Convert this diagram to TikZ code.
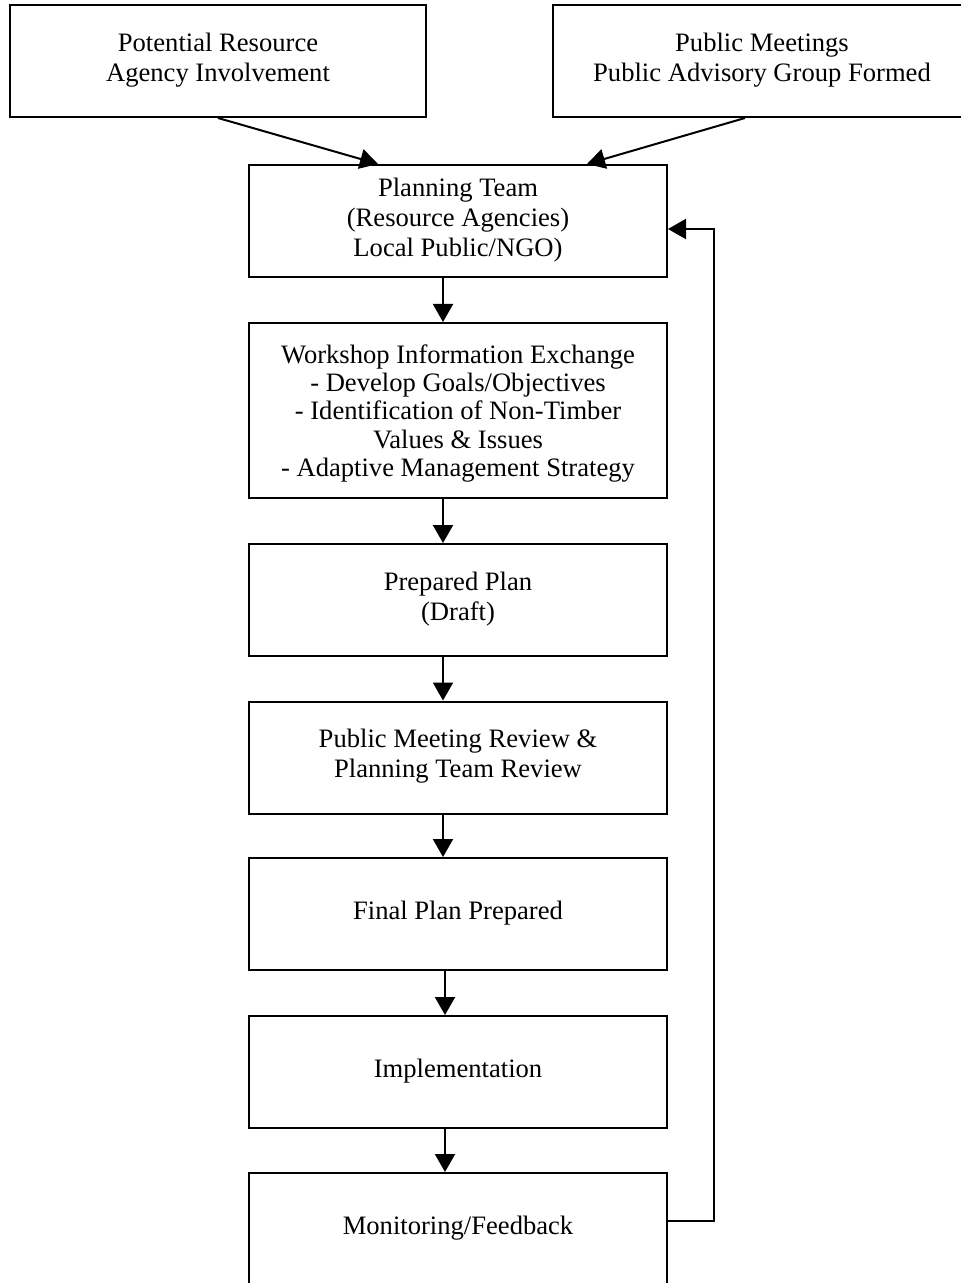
\documentclass[tikz,border=0pt]{standalone}
\usepackage{fontspec}
\setmainfont{Liberation Serif}
\usetikzlibrary{arrows.meta,positioning,calc}

\begin{document}
\begin{tikzpicture}[
  x=0.5pt, y=-0.5pt,
  box/.style={rectangle, draw, line width=1pt, minimum width=209pt, minimum height=56pt, align=center, text depth=4pt, font=\fontsize{13.3}{15}\selectfont},
  arr/.style={-{Triangle[length=9pt, width=10pt]}, line width=1pt},
  every node/.style={inner sep=4pt}
]
\useasboundingbox (0,0) rectangle (961,1283);

% Top: the two starting inputs
\node[box, minimum width=208pt] (agency) at (218,61) {Potential Resource\\Agency Involvement};
\node[box] (meetings) at (762,61) {Public Meetings\\Public Advisory Group Formed};

% Planning team
\node[box] (team) at (458,221) {Planning Team\\(Resource Agencies)\\Local Public/NGO)};
\draw[arr] (agency.south) -- ([xshift=-40pt]team.north);
\draw[arr] ([xshift=-8.5pt]meetings.south) -- ([xshift=64.5pt]team.north);

% Workshop
\node[box, minimum height=87.5pt, text depth=0pt, font=\fontsize{13.3}{14.2}\selectfont] (workshop) at (458,410.5) {Workshop Information Exchange\\- Develop Goals/Objectives\\- Identification of Non-Timber\\Values \& Issues\\- Adaptive Management Strategy};
\draw[arr] ([xshift=-7.5pt]team.south) -- ([xshift=-7.5pt]workshop.north);

% Draft plan
\node[box] (draft) at (458,600) {Prepared Plan\\(Draft)};
\draw[arr] ([xshift=-7.5pt]workshop.south) -- ([xshift=-7.5pt]draft.north);

% Review
\node[box] (review) at (458,757.5) {Public Meeting Review \&\\Planning Team Review};
\draw[arr] ([xshift=-7.5pt]draft.south) -- ([xshift=-7.5pt]review.north);

% Final plan
\node[box] (final) at (458,914) {Final Plan Prepared};
\draw[arr] ([xshift=-7.5pt]review.south) -- ([xshift=-7.5pt]final.north);

% Implementation
\node[box] (impl) at (458,1072) {Implementation};
\draw[arr] ([xshift=-6.5pt]final.south) -- ([xshift=-6.5pt]impl.north);

% Monitoring and the feedback loop
\node[box] (monitor) at (458,1229) {Monitoring/Feedback};
\draw[arr] ([xshift=-6.5pt]impl.south) -- ([xshift=-6.5pt]monitor.north);
\coordinate (loop) at (714,1221);
\draw[arr] ([yshift=4pt]monitor.east) -- (loop) |- ([yshift=-4pt]team.east);

\end{tikzpicture}
\end{document}
